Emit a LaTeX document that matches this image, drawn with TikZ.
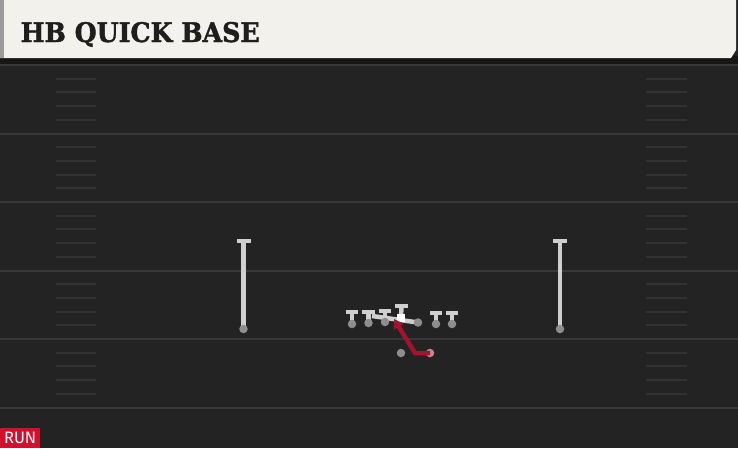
\documentclass[tikz,border=0pt]{standalone}
\usepackage{fontspec}
\setmainfont{DejaVu Serif}
\newfontfamily\titlefont[FakeBold=1.6]{DejaVu Serif}
\newfontfamily\runfont{Fira Sans}
\usetikzlibrary{arrows.meta}
\definecolor{fieldc}{HTML}{232323}
\definecolor{shadowc}{HTML}{161616}
\definecolor{yardc}{HTML}{383838}
\definecolor{hashc}{HTML}{323232}
\definecolor{headerc}{HTML}{F3F1EB}
\definecolor{leftbarc}{HTML}{9B9B9B}
\definecolor{titlec}{HTML}{1E1E1E}
\definecolor{plrc}{HTML}{8E8E8E}
\definecolor{stemc}{HTML}{CFCFCF}
\definecolor{routec}{HTML}{A3122F}
\definecolor{hbc}{HTML}{C98592}
\definecolor{runc}{HTML}{D0102C}
\pgfdeclarelayer{back}
\pgfdeclarelayer{mid}
\pgfsetlayers{back,mid,main}
\tikzset{
  yard/.style={draw=yardc, line width=2pt},
  hash/.style={draw=hashc, line width=2pt},
  plr/.style={circle, fill=plrc, minimum size=8.5pt, inner sep=0pt},
  hbplr/.style={circle, fill=hbc, minimum size=8.5pt, inner sep=0pt},
  ctr/.style={rectangle, fill=white, minimum size=8.5pt, inner sep=0pt},
  tbar/.style={rectangle, fill=stemc, minimum width=12.5pt, minimum height=4pt, inner sep=0pt},
  wrbar/.style={rectangle, fill=stemc, minimum width=14pt, minimum height=4.5pt, inner sep=0pt},
  stem/.style={draw=stemc, line width=4.5pt},
  pull/.style={draw=stemc, line width=4.5pt},
  route/.style={draw=routec, line width=4.5pt, -{Triangle[length=9pt,width=11pt]}},
}
\begin{document}
\begin{tikzpicture}[x=1pt,y=-1pt]
\useasboundingbox (0,0) rectangle (738,448);
\begin{pgfonlayer}{back}
\fill[fieldc] (0,0) rectangle (738,448);
\fill[shadowc] (0,56) rectangle (738,64);
\foreach \y in {65,133.5,202,270.5,339,407.5}
  \draw[yard] (0,\y) -- (738,\y);
\foreach \y in {65,133.5,202,270.5,339}
  \foreach \k in {1,2,3,4} {
    \pgfmathsetmacro\hy{round(\y+\k*13.7)}
    \draw[hash] (56,\hy) -- (96,\hy);
    \draw[hash] (646,\hy) -- (687,\hy);
  }
\fill[headerc] (0,0) -- (736,0) -- (736,50) -- (731,58) -- (0,58) -- cycle;
\fill[leftbarc] (0,0) rectangle (4,58);
\end{pgfonlayer}
\node[anchor=base west, inner sep=0pt, text=titlec, font=\titlefont\bfseries\fontsize{27}{27}\selectfont, xscale=0.935] (title) at (20.5,42) {HB QUICK BASE};
% receivers
\node[plr] (lwr) at (243.5,329) {};
\node[wrbar] (lwrt) at (243.5,241) {};
\node[plr] (rwr) at (560,329) {};
\node[wrbar] (rwrt) at (560,241) {};
% line
\node[plr] (p1) at (352,324) {};
\node[tbar] (p1t) at (352,312) {};
\node[plr] (p2) at (368.5,323) {};
\node[tbar] (p2t) at (368.5,312) {};
\node[plr] (p3) at (385,322) {};
\node[tbar] (p3t) at (385,311) {};
\node[ctr] (c) at (401,318) {};
\node[tbar] (ct) at (401.5,305.5) {};
\node[plr] (p5) at (418,322.5) {};
\coordinate (pullend) at (372,316);
\node[plr] (p6) at (436,324) {};
\node[tbar] (p6t) at (436,313) {};
\node[plr] (p7) at (452,324) {};
\node[tbar] (p7t) at (452,313) {};
% backfield
\node[plr] (qb) at (401,353) {};
\node[hbplr] (hb) at (430,353) {};
\coordinate (hbturn) at (415,353);
\coordinate (runend) at (394,319);
\begin{pgfonlayer}{mid}
\draw[stem] (lwr.center) -- (lwrt.center);
\draw[stem] (rwr.center) -- (rwrt.center);
\draw[stem] (p1.center) -- (p1t.center);
\draw[stem] (p2.center) -- (p2t.center);
\draw[stem] (p3.center) -- (p3t.center);
\draw[stem] (c.center) -- (ct.center);
\draw[stem] (p6.center) -- (p6t.center);
\draw[stem] (p7.center) -- (p7t.center);
\draw[pull] (p5.center) -- (pullend);
\end{pgfonlayer}
\draw[route] (hb.center) -- (hbturn) -- (runend);
\node[fill=runc, text=white, anchor=south west, minimum width=40pt, minimum height=20pt, inner sep=0pt, font=\runfont\fontsize{16.5}{16.5}\selectfont] (run) at (0,448) {RUN};
\end{tikzpicture}
\end{document}
